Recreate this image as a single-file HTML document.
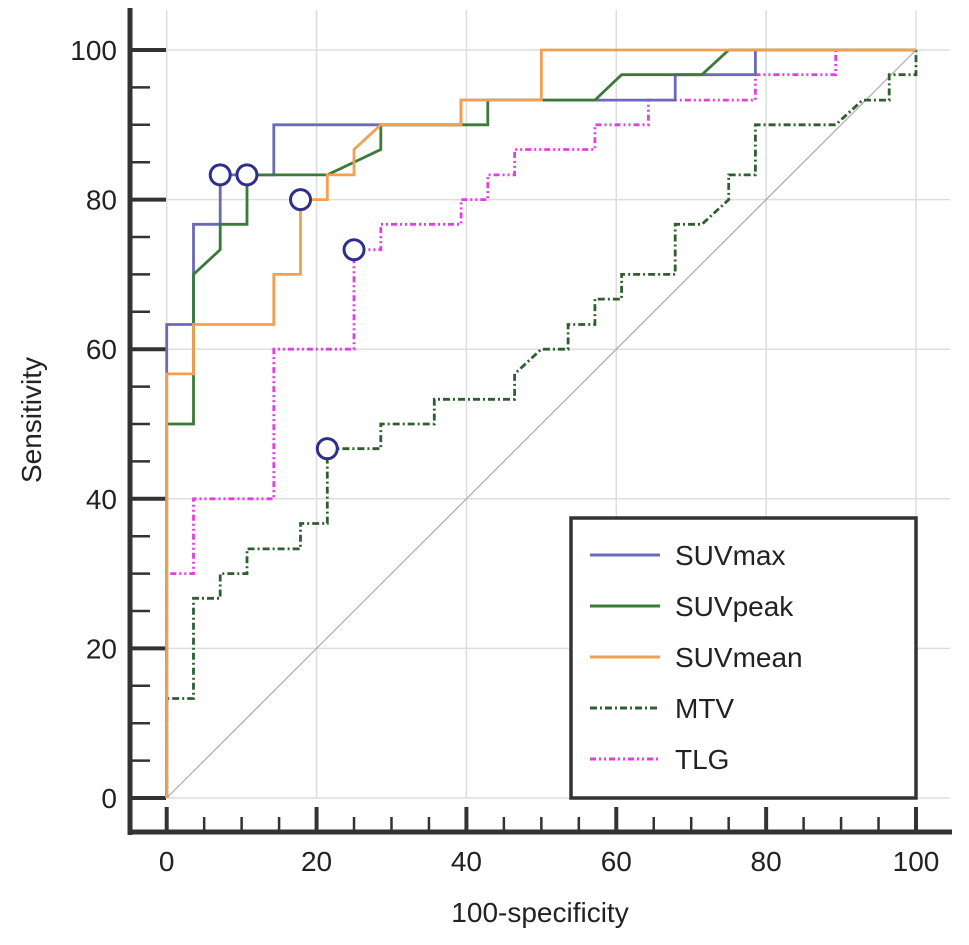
<!DOCTYPE html>
<html><head><meta charset="utf-8"><style>
html,body{margin:0;padding:0;background:#fff}
svg{display:block;font-family:"Liberation Sans",sans-serif}
</style></head><body>
<svg id="chart" width="969" height="945" viewBox="0 0 969 945"></svg>
<script>
const seriesNames=["SUVmax","SUVpeak","SUVmean","MTV","TLG"];
const suvmaxX=[0,0,3.57,3.57,7.14,7.14,14.29,14.29,39.29,39.29,67.86,67.86,78.57,78.57,100];
const suvmaxY=[0,63.3,63.3,76.7,76.7,83.3,83.3,90,90,93.3,93.3,96.7,96.7,100,100];
const suvpeakX=[0,0,3.57,3.57,7.14,7.14,10.71,10.71,21.43,28.57,28.57,42.86,42.86,57.14,60.71,71.43,75,100];
const suvpeakY=[0,50,50,70,73.3,76.7,76.7,83.3,83.3,86.7,90,90,93.3,93.3,96.7,96.7,100,100];
const suvmeanX=[0,0,3.57,3.57,14.29,14.29,17.86,17.86,21.43,21.43,25,25,28.57,39.29,39.29,50,50,100];
const suvmeanY=[0,56.7,56.7,63.3,63.3,70,70,80,80,83.3,83.3,86.7,90,90,93.3,93.3,100,100];
const mtvX=[0,0,3.57,3.57,7.14,7.14,10.71,10.71,17.86,17.86,21.43,21.43,28.57,28.57,35.71,35.71,46.43,46.43,50,53.57,53.57,57.14,57.14,60.71,60.71,67.86,67.86,71.43,75,75,78.57,78.57,89.29,92.86,96.43,96.43,100,100];
const mtvY=[0,13.3,13.3,26.7,26.7,30,30,33.3,33.3,36.7,36.7,46.7,46.7,50,50,53.3,53.3,56.7,60,60,63.3,63.3,66.7,66.7,70,70,76.7,76.7,80,83.3,83.3,90,90,93.3,93.3,96.7,96.7,100];
const tlgX=[0,0,3.57,3.57,14.29,14.29,25,25,28.57,28.57,39.29,39.29,42.86,42.86,46.43,46.43,57.14,57.14,64.29,64.29,78.57,78.57,89.29,89.29,100];
const tlgY=[0,30,30,40,40,60,60,73.3,73.3,76.7,76.7,80,80,83.3,83.3,86.7,86.7,90,90,93.3,93.3,96.7,96.7,100,100];
const cutoffX=[7.14,10.71,17.86,21.43,25];
const cutoffY=[83.3,83.3,80,46.7,73.3];
const xTicks=[0,20,40,60,80,100];
const yTicks=[0,20,40,60,80,100];

const NS="http://www.w3.org/2000/svg";
const svg=document.getElementById('chart');
const X0=166.7,X1=916,Y0=798,Y1=50;
const sx=v=>X0+(X1-X0)*v/100;
const sy=v=>Y0-(Y0-Y1)*v/100;
function mk(tag,attrs,parent){const e=document.createElementNS(NS,tag);for(const k in attrs)e.setAttribute(k,attrs[k]);(parent||svg).appendChild(e);return e;}

const grid=mk('g',{});


xTicks.forEach(t=>{mk('line',{x1:sx(t),x2:sx(t),y1:10,y2:Y0,stroke:'#ddd','stroke-width':1.5},grid);});
yTicks.forEach(t=>{mk('line',{x1:X0,x2:950,y1:sy(t),y2:sy(t),stroke:'#ddd','stroke-width':1.5},grid);});
const diag=mk('line',{x1:sx(0),y1:sy(0),x2:sx(100),y2:sy(100),stroke:'#aaa','stroke-width':1.2});



const axes=mk('g',{});


mk('line',{x1:130,x2:130,y1:8,y2:835,stroke:'#333','stroke-width':5},axes);
mk('line',{x1:128,x2:952,y1:832,y2:832,stroke:'#333','stroke-width':5},axes);
for(let v=0;v<=100;v+=5){
  const maj=v%20===0;
  mk('line',{x1:sx(v),x2:sx(v),y1:832,y2:maj?807:817,stroke:'#333','stroke-width':maj?4:2.5},axes);
  mk('line',{x1:130,x2:maj?166:150,y1:sy(v),y2:sy(v),stroke:'#333','stroke-width':maj?4:2.5},axes);
}
xTicks.forEach(t=>{
  const tx=mk('text',{x:sx(t),y:871,'text-anchor':'middle','font-size':28,fill:'#222'},axes);
  
  
  tx.textContent=t;
});
yTicks.forEach(t=>{
  const tx=mk('text',{x:117,y:sy(t)+10,'text-anchor':'end','font-size':28,fill:'#222'},axes);
  
  
  tx.textContent=t;
});
const xt=mk('text',{x:540,y:922,'text-anchor':'middle','font-size':28,fill:'#222'});


xt.textContent='100-specificity';
const yt=mk('text',{x:0,y:0,'text-anchor':'middle','font-size':28,fill:'#222',transform:'translate(41,420) rotate(-90)'});


yt.textContent='Sensitivity';

const styles=[
 {c:'#6a6ab8',d:'',w:2.8},
 {c:'#3a7a3a',d:'',w:2.8},
 {c:'#f0a050',d:'',w:2.8},
 {c:'#2f5f2f',d:'7 3 2 3',w:2.8},
 {c:'#e040e0',d:'6 3 2 3 2 3',w:2.8}
];
const data=[[suvmaxX,suvmaxY],[suvpeakX,suvpeakY],[suvmeanX,suvmeanY],[mtvX,mtvY],[tlgX,tlgY]];
const order=[3,4,0,1,2];
order.forEach(i=>{
  const [xs,ys]=data[i];
  const pts=xs.map((x,j)=>sx(x).toFixed(1)+','+sy(ys[j]).toFixed(1)).join(' ');
  const p=mk('polyline',{points:pts,fill:'none',stroke:styles[i].c,'stroke-width':styles[i].w,'stroke-dasharray':styles[i].d});
  
  
});
cutoffX.forEach((x,j)=>{
  const c=mk('circle',{cx:sx(x),cy:sy(cutoffY[j]),r:10,fill:'#fff',stroke:'#2e2e8c','stroke-width':3});
  
  
});

const lg=mk('g',{});


mk('rect',{x:571,y:518,width:345,height:280,fill:'#fff',stroke:'#333','stroke-width':3.5},lg);
seriesNames.forEach((n,i)=>{
  const y=555+i*51;
  const g=mk('g',{},lg);
  
  
  mk('line',{x1:590,x2:660,y1:y,y2:y,stroke:styles[i].c,'stroke-width':3,'stroke-dasharray':styles[i].d},g);
  const t=mk('text',{x:675,y:y+10,'font-size':28,fill:'#222'},g);
  t.textContent=n;
});
</script>
</body></html>
